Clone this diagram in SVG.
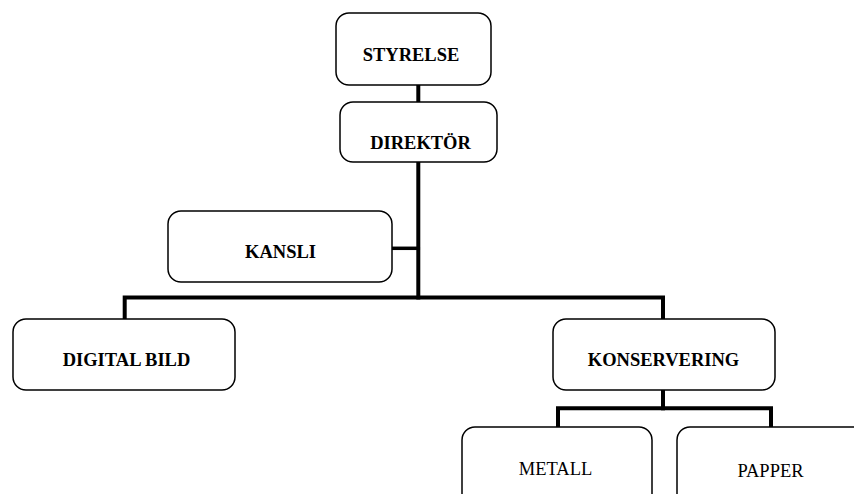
<svg xmlns="http://www.w3.org/2000/svg" width="854" height="494" viewBox="0 0 854 494">
<style>
.box{fill:#fff;stroke:#000;stroke-width:1.5}
.t{font-family:"Liberation Serif","Times New Roman",serif;font-size:18.5px;text-anchor:middle;fill:#000}
.b{font-weight:bold}
.c{stroke:#000;stroke-width:4;fill:none;stroke-linecap:square}
</style>
<rect width="854" height="494" fill="#fff"/>
<g id="connectors">
<line class="c" x1="418.3" y1="85" x2="418.3" y2="102"/>
<line class="c" x1="418.3" y1="162" x2="418.3" y2="297.5"/>
<line class="c" x1="392" y1="248.3" x2="418.3" y2="248.3" style="stroke-width:3.5"/>
<polyline class="c" points="124.7,319 124.7,297.5 663,297.5 663,319"/>
<line class="c" x1="663" y1="390" x2="663" y2="408.3"/>
<polyline class="c" points="558,427 558,408.3 771,408.3 771,427"/>
</g>
<g id="styrelse"><rect class="box" x="336" y="13" width="155" height="72" rx="13"/><text class="t b" x="411" y="61">STYRELSE</text></g>
<g id="direktor"><rect class="box" x="340" y="102" width="157" height="60" rx="13"/><text class="t b" x="420.5" y="149">DIREKTÖR</text></g>
<g id="kansli"><rect class="box" x="168" y="211" width="224" height="71" rx="13"/><text class="t b" x="280.5" y="258">KANSLI</text></g>
<g id="digitalbild"><rect class="box" x="13" y="319" width="222" height="71" rx="13"/><text class="t b" x="126.5" y="366">DIGITAL BILD</text></g>
<g id="konservering"><rect class="box" x="553" y="319" width="222" height="71" rx="13"/><text class="t b" x="663.5" y="366">KONSERVERING</text></g>
<g id="metall"><rect class="box" x="462" y="427" width="190" height="80" rx="13"/><text class="t" x="555.5" y="475">METALL</text></g>
<g id="papper"><rect class="box" x="677" y="427" width="190" height="80" rx="13"/><text class="t" x="770.5" y="477">PAPPER</text></g>
</svg>
